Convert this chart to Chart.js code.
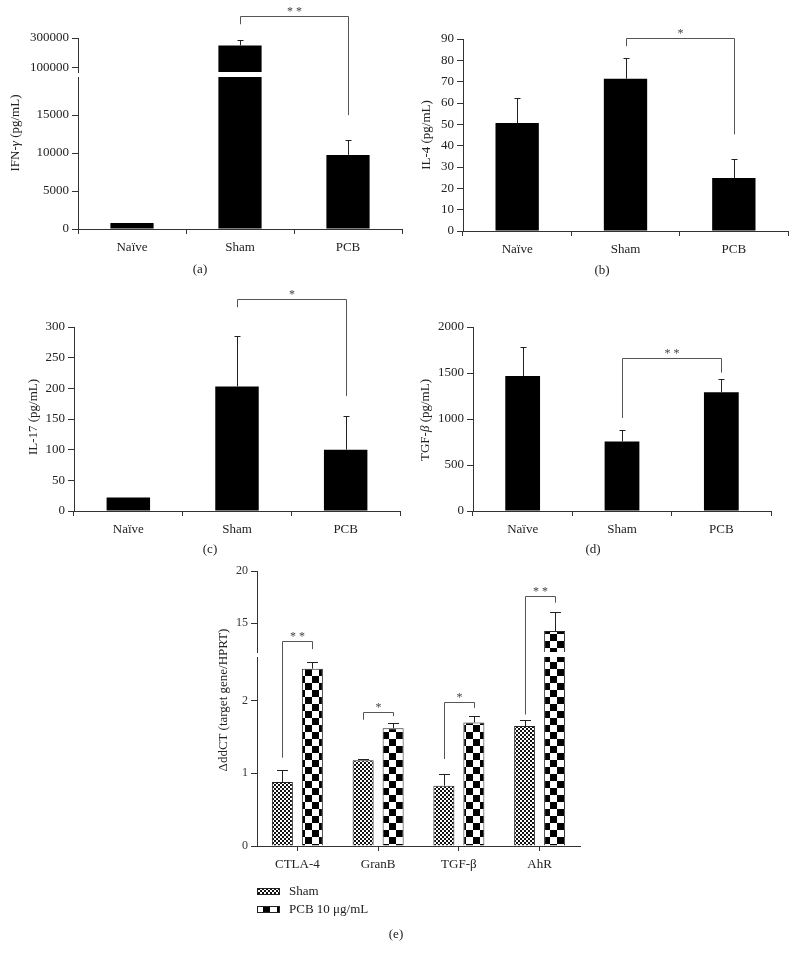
<!DOCTYPE html>
<html>
<head>
<meta charset="utf-8">
<script src="https://cdn.jsdelivr.net/npm/chart.js@4.4.0/dist/chart.umd.min.js"></script>
<style>
body { margin: 0; background: #fff; }
#page { position: relative; width: 797px; height: 960px; font-family: "Liberation Serif", serif; color: #222; overflow: hidden; }
#page canvas { position: absolute; }
.lbl { position: absolute; font-size: 13px; white-space: nowrap; transform: translate(-50%, -50%); }
.ytitle { transform: translate(-50%, -50%) rotate(-90deg); }
</style>
</head>
<body>
<div id="page"></div>
<script>
// data
var groups = ['Naïve', 'Sham', 'PCB'];
var ifnMean = [800, 250000, 9750];
var ifnErr = [0, 35000, 1950];
var il4Mean = [50.6, 71.4, 24.8];
var il4Err = [11.9, 9.6, 8.8];
var il17Mean = [22, 203, 100];
var il17Err = [0, 82, 55];
var tgfMean = [1467, 756, 1291];
var tgfErr = [315, 126, 148];

var genes = ['CTLA-4', 'GranB', 'TGF-β', 'AhR'];
var shamMean = [0.88, 1.18, 0.83, 1.65];
var shamErr = [0.17, 0.02, 0.16, 0.09];
var pcbMean = [2.44, 1.62, 1.70, 14.26];
var pcbErr = [0.09, 0.07, 0.09, 1.85];

// tick labels
var ifnTicksHigh = [100000, 300000];
var ifnTicksLow = [0, 5000, 10000, 15000];
var il4Ticks = [0, 10, 20, 30, 40, 50, 60, 70, 80, 90];
var il17Ticks = [0, 50, 100, 150, 200, 250, 300];
var tgfTicks = [0, 500, 1000, 1500, 2000];
var ddctTicksHigh = [15, 20];
var ddctTicksLow = [0, 1, 2];

Chart.defaults.font.family = '"Liberation Serif", serif';
Chart.defaults.font.size = 13;
Chart.defaults.color = '#222';
Chart.defaults.animation = false;
Chart.defaults.plugins.legend.display = false;
Chart.defaults.plugins.tooltip.enabled = false;

var page = document.getElementById('page');

function addCanvas(x, y, w, h) {
    var c = document.createElement('canvas');
    c.width = w; c.height = h;
    c.style.left = x + 'px'; c.style.top = y + 'px';
    c.style.width = w + 'px'; c.style.height = h + 'px';
    page.appendChild(c);
    return c;
}

function addLabel(html, x, y, cls) {
    var d = document.createElement('div');
    d.className = 'lbl' + (cls ? ' ' + cls : '');
    d.style.left = x + 'px'; d.style.top = y + 'px';
    d.innerHTML = html;
    page.appendChild(d);
}

function checker(cell, dark, light) {
    var c = document.createElement('canvas');
    c.width = c.height = cell * 2;
    var g = c.getContext('2d');
    g.fillStyle = light; g.fillRect(0, 0, cell * 2, cell * 2);
    g.fillStyle = dark; g.fillRect(0, 0, cell, cell); g.fillRect(cell, cell, cell, cell);
    return g.createPattern(c, 'repeat');
}

function yScale(o) {
    return {
        min: o.min, max: o.max,
        afterBuildTicks: function (s) { s.ticks = o.ticks.map(function (v) { return { value: v }; }); },
        afterFit: function (s) { s.width = o.width; },
        grid: { drawOnChartArea: false, tickLength: 6, color: '#333' },
        border: { color: '#333' },
        ticks: { padding: 3, font: { size: o.size || 13 }, color: o.color || '#222', callback: function (v) { return String(v); } }
    };
}

function xScale(o) {
    var s = {
        display: o.display !== false,
        grid: { offset: o.offset !== false, drawOnChartArea: false, tickLength: 5, color: '#333' },
        border: { color: '#333' },
        ticks: { padding: 6, maxRotation: 0, autoSkip: false }
    };
    if (o.height) s.afterFit = function (sc) { sc.height = o.height; };
    return s;
}

// one-sided error bars drawn from dataset.errors
var errorBars = {
    id: 'errorBars',
    afterDatasetsDraw: function (chart, args, opts) {
        var ctx = chart.ctx, y = chart.scales.y;
        ctx.save();
        ctx.strokeStyle = '#222';
        ctx.lineWidth = 1;
        ctx.beginPath();
        chart.data.datasets.forEach(function (ds, d) {
            var meta = chart.getDatasetMeta(d);
            ds.data.forEach(function (v, i) {
                var e = ds.errors[i];
                if (!e || v > y.max || v < y.min) return;
                var x = Math.round(meta.data[i].x) + 0.5;
                var y0 = y.getPixelForValue(v), y1 = Math.round(y.getPixelForValue(v + e)) + 0.5;
                ctx.moveTo(x, y0); ctx.lineTo(x, y1);
                ctx.moveTo(x - opts.cap / 2, y1); ctx.lineTo(x + opts.cap / 2, y1);
            });
        });
        ctx.stroke();
        ctx.restore();
    }
};

// legend with pattern swatches, stacked under the axis
var stackLegend = {
    id: 'stackLegend',
    afterDraw: function (chart, args, opts) {
        if (!opts.show) return;
        var ctx = chart.ctx, a = chart.chartArea;
        ctx.save();
        ctx.font = '13px "Liberation Serif", serif';
        ctx.textBaseline = 'middle';
        chart.data.datasets.forEach(function (ds, d) {
            var top = a.bottom + opts.offset + d * opts.row;
            ctx.fillStyle = ds.backgroundColor;
            ctx.fillRect(a.left, top, 23, 7);
            ctx.strokeStyle = '#222';
            ctx.strokeRect(a.left + 0.5, top + 0.5, 22, 6);
            ctx.fillStyle = '#222';
            ctx.fillText(ds.label, a.left + 32, top + 4);
        });
        ctx.restore();
    }
};

function barChart(canvas, o) {
    return new Chart(canvas, {
        type: 'bar',
        data: { labels: o.labels, datasets: o.datasets },
        options: {
            responsive: false,
            devicePixelRatio: 1,
            layout: { padding: o.padding },
            scales: { x: o.x, y: o.y },
            plugins: {
                errorBars: { cap: o.cap || 6 },
                stackLegend: o.legend || { show: false }
            }
        },
        plugins: [errorBars, stackLegend]
    });
}

function single(mean, err, pct) {
    return [{ data: mean, errors: err, backgroundColor: '#000', borderWidth: 0,
              barPercentage: pct, categoryPercentage: 1, clip: 0 }];
}

var shamFill = checker(2, '#111', '#fff');
var pcbFill = checker(7, '#000', '#fff');
function pair() {
    var common = { borderColor: '#222', borderWidth: 1, barPercentage: 0.7, categoryPercentage: 0.743, clip: 0 };
    return [
        Object.assign({ label: 'Sham', data: shamMean, errors: shamErr, backgroundColor: shamFill }, common),
        Object.assign({ label: 'PCB 10 μg/mL', data: pcbMean, errors: pcbErr, backgroundColor: pcbFill }, common)
    ];
}

var panels = [];

// (a) IFN-γ, broken axis
var pa = { left: 0, top: 0 };
pa.upper = barChart(addCanvas(0, 0, 410, 262), {
    labels: groups, datasets: single(ifnMean, ifnErr, 0.4),
    padding: { top: 38, bottom: 190, right: 8 },
    x: xScale({ display: false }),
    y: yScale({ min: 73333, max: 300000, ticks: ifnTicksHigh, width: 78 })
});
pa.lower = barChart(addCanvas(0, 0, 410, 262), {
    labels: groups, datasets: single(ifnMean, ifnErr, 0.4),
    padding: { top: 77, right: 8 },
    x: xScale({ height: 33 }),
    y: yScale({ min: 0, max: 20000, ticks: ifnTicksLow, width: 78 })
});
pa.brackets = [{ d1: 0, i1: 1, d2: 0, i2: 2, g1: 16, g2: 25, rise: 8, text: '* *' }];
panels.push(pa);

// (b) IL-4
var pb = { left: 400, top: 0 };
pb.lower = barChart(addCanvas(400, 0, 397, 262), {
    labels: groups, datasets: single(il4Mean, il4Err, 0.4),
    padding: { top: 39, right: 9 },
    x: xScale({ height: 31 }),
    y: yScale({ min: 0, max: 90, ticks: il4Ticks, width: 63 })
});
pb.brackets = [{ d1: 0, i1: 1, d2: 0, i2: 2, g1: 12, g2: 25, rise: 8, text: '*' }];
panels.push(pb);

// (c) IL-17
var pc = { left: 0, top: 280 };
pc.lower = barChart(addCanvas(0, 280, 410, 262), {
    labels: groups, datasets: single(il17Mean, il17Err, 0.4),
    padding: { top: 47, right: 10 },
    x: xScale({ height: 31 }),
    y: yScale({ min: 0, max: 300, ticks: il17Ticks, width: 74 })
});
pc.brackets = [{ d1: 0, i1: 1, d2: 0, i2: 2, g1: 29, g2: 20, rise: 8, text: '*' }];
panels.push(pc);

// (d) TGF-β
var pd = { left: 400, top: 280 };
pd.lower = barChart(addCanvas(400, 280, 397, 262), {
    labels: groups, datasets: single(tgfMean, tgfErr, 0.35),
    padding: { top: 47, right: 26 },
    x: xScale({ height: 31 }),
    y: yScale({ min: 0, max: 2000, ticks: tgfTicks, width: 73 })
});
pd.brackets = [{ d1: 0, i1: 1, d2: 0, i2: 2, g1: 12, g2: 6, rise: 15, text: '* *' }];
panels.push(pd);

// (e) ΔddCT, broken axis, grouped
var pe = { left: 200, top: 550 };
pe.upper = barChart(addCanvas(200, 550, 400, 380), {
    labels: genes, datasets: pair(), cap: 11,
    padding: { top: 21, bottom: 278, right: 20 },
    x: xScale({ display: false }),
    y: yScale({ min: 12.26, max: 20, ticks: ddctTicksHigh, width: 57, size: 12, color: '#333' })
});
pe.lower = barChart(addCanvas(200, 550, 400, 380), {
    labels: genes, datasets: pair(), cap: 11,
    padding: { top: 107, right: 20 },
    x: xScale({ height: 84, offset: false }),
    y: yScale({ min: 0, max: 2.6, ticks: ddctTicksLow, width: 57, size: 12, color: '#333' }),
    legend: { show: true, offset: 42, row: 18 }
});
pe.brackets = [
    { d1: 0, i1: 0, d2: 1, i2: 0, g1: 12, g2: 13, rise: 8, text: '* *' },
    { d1: 0, i1: 1, d2: 1, i2: 1, g1: 39, g2: 7, rise: 4, text: '*' },
    { d1: 0, i1: 2, d2: 1, i2: 2, g1: 15, g2: 8, rise: 6, text: '*' },
    { d1: 0, i1: 3, d2: 1, i2: 3, g1: 5, g2: 9, rise: 7, text: '* *' }
];
panels.push(pe);

// significance brackets on an overlay, positioned through the charts' scales
var overlay = addCanvas(0, 0, 797, 960);
overlay.style.pointerEvents = 'none';
var octx = overlay.getContext('2d');

function valuePx(p, v) {
    var c = (p.upper && v > p.lower.scales.y.max) ? p.upper : p.lower;
    return p.top + c.scales.y.getPixelForValue(v);
}
function barPx(p, d, i) {
    return p.left + p.lower.getDatasetMeta(d).data[i].x;
}

octx.strokeStyle = '#555';
octx.lineWidth = 1;
octx.fillStyle = '#444';
octx.font = '12px "Liberation Serif", serif';
octx.textAlign = 'center';
octx.textBaseline = 'middle';
panels.forEach(function (p) {
    var ds = p.lower.data.datasets;
    p.brackets.forEach(function (b) {
        var x1 = Math.round(barPx(p, b.d1, b.i1)) + 0.5;
        var x2 = Math.round(barPx(p, b.d2, b.i2)) + 0.5;
        var y1 = valuePx(p, ds[b.d1].data[b.i1] + ds[b.d1].errors[b.i1]) - b.g1;
        var y2 = valuePx(p, ds[b.d2].data[b.i2] + ds[b.d2].errors[b.i2]) - b.g2;
        var top = Math.round(Math.min(y1, y2) - b.rise) + 0.5;
        octx.beginPath();
        octx.moveTo(x1, y1); octx.lineTo(x1, top); octx.lineTo(x2, top); octx.lineTo(x2, y2);
        octx.stroke();
        octx.fillText(b.text, (x1 + x2) / 2, top - 5);
    });
});

// axis titles and panel letters
addLabel('IFN-<i>γ</i> (pg/mL)', 15, 133, 'ytitle');
addLabel('IL-4 (pg/mL)', 426, 135, 'ytitle');
addLabel('IL-17 (pg/mL)', 33, 417, 'ytitle');
addLabel('TGF-<i>β</i> (pg/mL)', 425, 420, 'ytitle');
addLabel('ΔddCT (target gene/HPRT)', 223, 700, 'ytitle');
addLabel('(a)', 200, 269);
addLabel('(b)', 602, 270);
addLabel('(c)', 210, 549);
addLabel('(d)', 593, 549);
addLabel('(e)', 396, 934);
</script>
</body>
</html>
